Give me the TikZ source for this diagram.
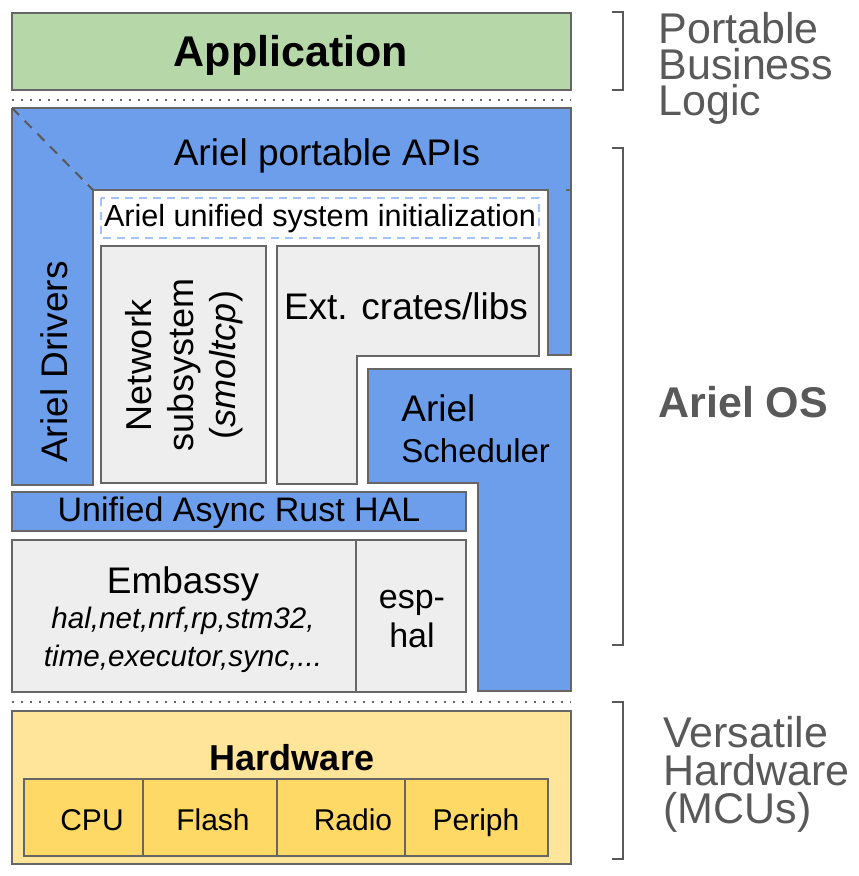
\documentclass[tikz,border=0pt]{standalone}
\usepackage{fontspec}
\setmainfont{Liberation Sans}
\usetikzlibrary{positioning}
\usepackage{xcolor}
\definecolor{arielblue}{HTML}{6D9EEB}
\definecolor{appgreen}{HTML}{B6D7A8}
\definecolor{hwyellow}{HTML}{FFE599}
\definecolor{partyellow}{HTML}{FFD966}
\definecolor{crategray}{HTML}{EEEEEE}
\definecolor{initblue}{HTML}{A4C2F4}
\definecolor{edgegray}{HTML}{666666}
\definecolor{labelgray}{HTML}{595959}
\newcommand{\ptsize}[2]{\fontsize{#1}{#2}\selectfont}

\begin{document}
\begin{tikzpicture}[x=0.5pt, y=-0.5pt,
    box/.style={draw=edgegray, line width=1pt},
    sep/.style={edgegray, line width=1pt, dash pattern=on 1pt off 3.5pt},
    brace/.style={labelgray, line width=1pt},
    sidelabel/.style={labelgray, anchor=north west, inner sep=0pt, align=left, font=\ptsize{21.5}{18}}]
                \useasboundingbox (0,0) rectangle (858,876);

                % Application layer
                \draw[box, fill=appgreen] (12,13) rectangle (571,90);
                \node[font=\ptsize{21.5}{24}\bfseries] (app) at (291,55) {Application};

                % Separator
                \draw[sep] (12,100) -- (571,100);

                % Ariel portable APIs and drivers
                \fill[arielblue] (12,108) -- (571,108) -- (571,355) -- (548,355) -- (548,190) -- (93,190) -- cycle;
                \fill[arielblue] (12,108) -- (93,190) -- (93,485) -- (12,485) -- cycle;
                \draw[box] (12,108) -- (571,108) -- (571,355) -- (548,355) -- (548,190) -- (93,190);
                \draw[box] (93,190) -- (93,485) -- (12,485) -- (12,108);
                \draw[box] (566,190) -- (571,190);
                \draw[labelgray, line width=1pt, dash pattern=on 5pt off 4pt] (12,108) -- (93,190);
                \node[font=\ptsize{18.5}{22}] (apis) at (327,156) {Ariel portable APIs};
                \node[font=\ptsize{18.5}{22}, rotate=90] (drivers) at (54,362) {Ariel Drivers};

                % System initialization
                \draw[initblue, line width=1pt, dash pattern=on 4pt off 3pt] (101,198) rectangle (539,238);
                \node[font=\ptsize{15.3}{18}] (init) at (320,219) {Ariel unified system initialization};

                % Network subsystem
                \draw[box, fill=crategray] (101,246) rectangle (266,483);
                \node[font=\ptsize{18}{21}, rotate=90, align=center] (net) at (184,365) {Network\\subsystem\\(\textit{smoltcp})};

                % External crates
                \draw[box, fill=crategray] (277,246) -- (539,246) -- (539,356) -- (357,356) -- (357,484) -- (277,484) -- cycle;
                \node[font=\ptsize{18.5}{22}] (ext) at (406,306) {Ext. crates/libs};

                % Scheduler
                \draw[box, fill=arielblue] (368,369) -- (571,369) -- (571,691) -- (478,691) -- (478,483) -- (368,483) -- cycle;
                \node[font=\ptsize{18.5}{22}, anchor=base west, inner sep=0pt] (schedtop) at (401,421) {Ariel};
                \node[font=\ptsize{16.5}{20}, anchor=base west, inner sep=0pt] (schedbot) at (401,462) {Scheduler};

                % HAL
                \draw[box, fill=arielblue] (12,492) rectangle (466,531);
                \node[font=\ptsize{17}{20}] (hal) at (239,513) {Unified Async Rust HAL};

                % Embassy and esp-hal
                \draw[box, fill=crategray] (12,540) rectangle (356,692);
                \draw[box, fill=crategray] (356,540) rectangle (466,692);
                \node[font=\ptsize{18.5}{22}] (embassy) at (183,584) {Embassy};
                \node[font=\ptsize{14.8}{19}\itshape, align=center] (embcrates) at (183,640) {hal,net,nrf,rp,stm32,\\time,executor,sync,...};
                \node[font=\ptsize{17}{19.5}, align=center] (esphal) at (412,619) {esp-\\hal};

                % Separator
                \draw[sep] (12,702) -- (571,702);

                % Hardware
                \draw[box, fill=hwyellow] (12,711) rectangle (571,864);
                \node[font=\ptsize{18}{22}\bfseries] (hw) at (292,758) {Hardware};
                \foreach \xa/\xb/\xt/\part in {24/143/92/CPU, 143/277/213/Flash, 277/405/353/Radio, 405/548/476/Periph} {
                    \draw[box, fill=partyellow] (\xa,779) rectangle (\xb,856);
                    \node[font=\ptsize{15}{18}, anchor=base] (\part) at (\xt,830) {\part};
                }

                % Side brackets
                \draw[brace] (612,12) -- (623,12) -- (623,90) -- (612,90);
                \draw[brace] (612,148) -- (623,148) -- (623,645) -- (612,645);
                \draw[brace] (612,702) -- (623,702) -- (623,859) -- (612,859);

                % Side labels
                \node[sidelabel] (biz) at (658,12) {Portable\\Business\\Logic};
                \node[sidelabel, anchor=base west, font=\ptsize{21.5}{24}\bfseries] (os) at (658,417) {Ariel OS};
                \node[sidelabel, font=\ptsize{21.5}{19}] (mcu) at (663,716) {Versatile\\Hardware\\(MCUs)};
\end{tikzpicture}
\end{document}
